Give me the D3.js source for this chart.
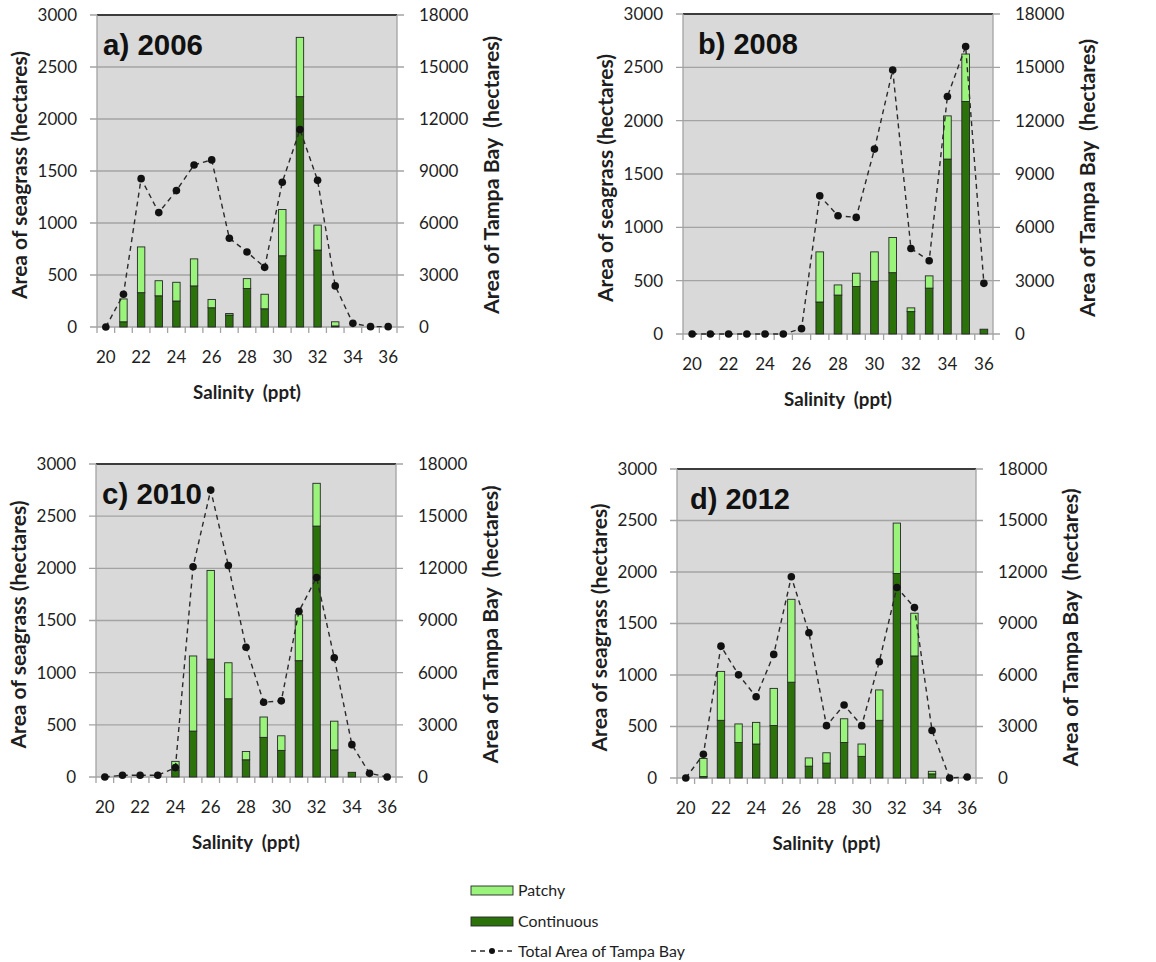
<!DOCTYPE html>
<html>
<head>
<meta charset="utf-8">
<script src="https://cdn.jsdelivr.net/npm/d3@7"></script>
<style>
	body { margin: 0; background: #fff; }
	svg { display: block; }
	text { white-space: pre; }
</style>
</head>
<body>
<div id="chart"></div>
<script>
// salinity classes (ppt)
var salinity = [20, 21, 22, 23, 24, 25, 26, 27, 28, 29, 30, 31, 32, 33, 34, 35, 36];
var seagrassTicks = [0, 500, 1000, 1500, 2000, 2500, 3000];
var bayTicks = [0, 3000, 6000, 9000, 12000, 15000, 18000];

// seagrass area (hectares), continuous and patchy
var continuous2006 = [0, 50, 330, 300, 250, 395, 185, 115, 370, 175, 685, 2215, 740, 10, 0, 0, 0];
var patchy2006 = [0, 220, 440, 145, 180, 260, 80, 15, 95, 140, 445, 570, 240, 40, 0, 0, 0];
var continuous2008 = [0, 0, 0, 0, 0, 0, 0, 300, 365, 445, 495, 575, 210, 430, 1640, 2180, 45];
var patchy2008 = [0, 0, 0, 0, 0, 0, 0, 470, 95, 125, 275, 330, 35, 115, 405, 445, 0];
var continuous2010 = [0, 0, 0, 0, 65, 440, 1130, 750, 165, 380, 255, 1115, 2405, 260, 45, 0, 0];
var patchy2010 = [0, 0, 0, 0, 85, 720, 850, 345, 80, 195, 140, 440, 410, 275, 0, 0, 0];
var continuous2012 = [0, 15, 560, 345, 330, 510, 930, 115, 145, 345, 210, 560, 1985, 1185, 40, 0, 0];
var patchy2012 = [0, 175, 475, 180, 210, 360, 805, 80, 100, 230, 120, 295, 490, 415, 25, 0, 0];

// total area of Tampa Bay (hectares)
var bay2006 = [0, 1890, 8560, 6600, 7870, 9350, 9640, 5120, 4330, 3440, 8350, 11390, 8460, 2370, 210, 20, 20];
var bay2008 = [0, 0, 0, 0, 0, 0, 300, 7770, 6650, 6560, 10400, 14850, 4810, 4120, 13360, 16170, 2850];
var bay2010 = [0, 100, 100, 100, 540, 12090, 16500, 12160, 7460, 4300, 4380, 9530, 11470, 6860, 1860, 210, 0];
var bay2012 = [0, 1380, 7680, 6010, 4730, 7200, 11720, 8460, 3050, 4250, 3050, 6770, 11100, 9930, 2770, 0, 60];

var legendLabels = ["Patchy", "Continuous", "Total Area of Tampa Bay"];

var PATCHY = "#9af47b",
	CONT = "#2b720b",
	BG = "#d9d9d9",
	GRID = "#a3a3a3",
	INK = "#1e1e1e";

var panels = [
	{ title: "a) 2006", cont: continuous2006, patchy: patchy2006, bay: bay2006, x0: 97, y0: 15, x1: 397, y1: 327, tdx: 6 },
	{ title: "b) 2008", cont: continuous2008, patchy: patchy2008, bay: bay2008, x0: 683, y0: 14, x1: 993, y1: 334, tdx: 15 },
	{ title: "c) 2010", cont: continuous2010, patchy: patchy2010, bay: bay2010, x0: 96, y0: 464, x1: 396, y1: 777, tdx: 6 },
	{ title: "d) 2012", cont: continuous2012, patchy: patchy2012, bay: bay2012, x0: 677, y0: 469, x1: 976, y1: 778, tdx: 13 }
];

var svg = d3.select("#chart").append("svg")
	.attr("width", 1156)
	.attr("height", 962);

// scale a label's font so it spans the width it has in the original
function fit(sel, target) {
	var w = sel.node().getComputedTextLength(),
		fs = parseFloat(sel.style("font-size"));
	if (w > 0) sel.style("font-size", (fs * target / w).toFixed(2) + "px");
	return sel;
}

function drawPanel(p) {
	var g = svg.append("g"),
		x = d3.scaleBand().domain(salinity).range([p.x0, p.x1]),
		yL = d3.scaleLinear().domain([0, 3000]).range([p.y1, p.y0]),
		yR = d3.scaleLinear().domain([0, 18000]).range([p.y1, p.y0]),
		bw = x.bandwidth(),
		barW = bw * 0.42,
		cy = (p.y0 + p.y1) / 2;

	g.append("rect")
		.attr("x", p.x0).attr("y", p.y0)
		.attr("width", p.x1 - p.x0).attr("height", p.y1 - p.y0)
		.attr("fill", BG);

	// gridlines (with tick stubs on both sides)
	g.append("g").selectAll("line")
		.data(seagrassTicks)
		.join("line")
		.attr("x1", p.x0 - 7).attr("x2", p.x1 + 7)
		.attr("y1", function (d) { return yL(d); })
		.attr("y2", function (d) { return yL(d); })
		.attr("stroke", GRID).attr("stroke-width", 1.3);

	g.append("line")
		.attr("x1", p.x0).attr("x2", p.x1)
		.attr("y1", p.y0).attr("y2", p.y0)
		.attr("stroke", "#3c3c3c").attr("stroke-width", 2);

	// side lines
	[p.x0, p.x1].forEach(function (xx) {
		g.append("line")
			.attr("x1", xx).attr("x2", xx)
			.attr("y1", p.y0).attr("y2", p.y1)
			.attr("stroke", GRID).attr("stroke-width", 1.3);
	});

	// category boundary ticks
	var bounds = salinity.map(function (d) { return x(d); }).concat([p.x1]);
	g.append("g").selectAll("line")
		.data(bounds)
		.join("line")
		.attr("x1", function (d) { return d; }).attr("x2", function (d) { return d; })
		.attr("y1", p.y1).attr("y2", p.y1 + 6)
		.attr("stroke", GRID).attr("stroke-width", 1.3);

	// stacked bars
	var rows = salinity.map(function (s, i) {
		return { s: s, cont: p.cont[i], patchy: p.patchy[i] };
	});
	var series = d3.stack().keys(["cont", "patchy"])(rows);
	var colors = { cont: CONT, patchy: PATCHY };

	g.append("g").selectAll("g")
		.data(series)
		.join("g")
		.attr("fill", function (d) { return colors[d.key]; })
		.selectAll("rect")
		.data(function (d) { return d.filter(function (v) { return v[1] - v[0] > 0; }); })
		.join("rect")
		.attr("x", function (d) { return x(d.data.s) + (bw - barW) / 2; })
		.attr("y", function (d) { return yL(d[1]); })
		.attr("width", barW)
		.attr("height", function (d) { return yL(d[0]) - yL(d[1]); })
		.attr("stroke", "#262626")
		.attr("stroke-width", 0.9);

	// total bay area
	var line = d3.line()
		.x(function (d, i) { return x(salinity[i]) + bw / 2; })
		.y(function (d) { return yR(d); });

	g.append("path")
		.datum(p.bay)
		.attr("d", line)
		.attr("fill", "none")
		.attr("stroke", "#2a2a2a")
		.attr("stroke-width", 1.4)
		.attr("stroke-dasharray", "5,4");

	g.append("g").selectAll("circle")
		.data(p.bay)
		.join("circle")
		.attr("cx", function (d, i) { return x(salinity[i]) + bw / 2; })
		.attr("cy", function (d) { return yR(d); })
		.attr("r", 3.8)
		.attr("fill", "#111");

	// axes labels
	var fmt = d3.format("d");
	var ax = g.append("g")
		.attr("transform", "translate(" + p.x0 + ",0)")
		.call(d3.axisLeft(yL).tickValues(seagrassTicks).tickFormat(fmt).tickSize(0).tickPadding(20));
	var axR = g.append("g")
		.attr("transform", "translate(" + p.x1 + ",0)")
		.call(d3.axisRight(yR).tickValues(bayTicks).tickFormat(fmt).tickSize(0).tickPadding(22));
	var axB = g.append("g")
		.attr("transform", "translate(0," + p.y1 + ")")
		.call(d3.axisBottom(x).tickValues(salinity.filter(function (d) { return d % 2 === 0; }))
			.tickSize(0).tickPadding(24));

	[ax, axR, axB].forEach(function (a) {
		a.select(".domain").remove();
		a.selectAll("text")
			.attr("fill", INK)
			.style("font-family", "Lato, sans-serif")
			.style("font-size", "17px");
	});

	fit(g.append("text")
		.attr("x", (p.x0 + p.x1) / 2)
		.attr("y", p.y1 + 72)
		.attr("text-anchor", "middle")
		.attr("fill", INK)
		.style("font", "bold 18px Lato, sans-serif")
		.text("Salinity  (ppt)"), 108);

	fit(g.append("text")
		.attr("transform", "translate(" + (p.x0 - 77) + "," + (cy + 4) + ") rotate(-90)")
		.attr("dy", "0.35em")
		.attr("text-anchor", "middle")
		.attr("fill", INK)
		.style("font", "bold 18px Lato, sans-serif")
		.text("Area of seagrass (hectares)"), 248);

	fit(g.append("text")
		.attr("transform", "translate(" + (p.x1 + 95) + "," + (cy + 4) + ") rotate(-90)")
		.attr("dy", "0.35em")
		.attr("text-anchor", "middle")
		.attr("fill", INK)
		.style("font", "bold 18px Lato, sans-serif")
		.text("Area of Tampa Bay  (hectares)"), 278);

	fit(g.append("text")
		.attr("x", p.x0 + p.tdx)
		.attr("y", p.y0 + 40)
		.attr("fill", "#111")
		.style("font", "bold 29px 'Liberation Sans', Arial, sans-serif")
		.text(p.title), 100);
}

panels.forEach(drawPanel);

// legend
var lg = svg.append("g").attr("transform", "translate(471,886)");
var lgRows = [0, 31, 65];

lg.append("rect").attr("x", 0).attr("y", lgRows[0]).attr("width", 42).attr("height", 9)
	.attr("fill", PATCHY).attr("stroke", "#262626").attr("stroke-width", 0.9);
lg.append("rect").attr("x", 0).attr("y", lgRows[1]).attr("width", 42).attr("height", 9)
	.attr("fill", CONT).attr("stroke", "#262626").attr("stroke-width", 0.9);
lg.append("line").attr("x1", 0).attr("x2", 42).attr("y1", lgRows[2]).attr("y2", lgRows[2])
	.attr("stroke", "#2a2a2a").attr("stroke-width", 1.4).attr("stroke-dasharray", "5,4");
lg.append("circle").attr("cx", 21).attr("cy", lgRows[2]).attr("r", 3).attr("fill", "#111");

var lgText = lg.selectAll("text.lab")
	.data(legendLabels)
	.join("text")
	.attr("class", "lab")
	.attr("x", 47)
	.attr("y", function (d, i) { return lgRows[i] + (i < 2 ? 4.5 : 0); })
	.attr("dy", "0.35em")
	.attr("fill", INK)
	.style("font", "14px Lato, sans-serif")
	.text(function (d) { return d; });

// size all legend labels from the longest one
fit(lgText.filter(function (d, i) { return i === 2; }), 167);
lgText.style("font-size", lgText.filter(function (d, i) { return i === 2; }).style("font-size"));
</script>
</body>
</html>
